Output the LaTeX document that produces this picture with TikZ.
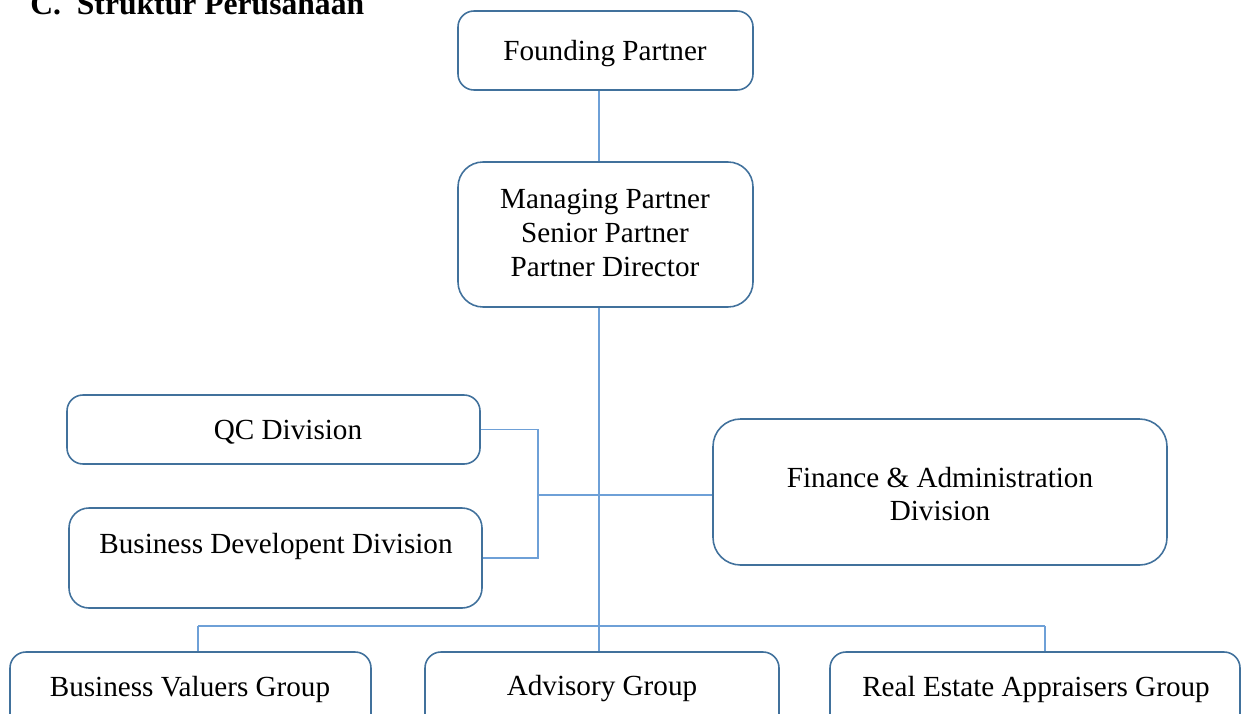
\documentclass[tikz,border=0pt]{standalone}
\usepackage{fontspec}
\setmainfont{Liberation Serif}
\usetikzlibrary{fit}

\definecolor{boxblue}{RGB}{65,113,156}
\definecolor{lineblue}{RGB}{110,160,215}

\tikzset{
  orgbox/.style = {draw=boxblue, line width=0.9pt, rounded corners=0.32cm,
                   inner sep=0pt},
  orgtext/.style = {inner sep=0pt, align=center,
                    font=\fontsize{16.6}{19.3}\selectfont},
  conn/.style = {draw=lineblue, line width=0.6pt},
}

\begin{document}
\begin{tikzpicture}[x=0.02cm, y=-0.02cm]
	\useasboundingbox (0,0) rectangle (1250,713);
	% title, cut at the top edge
	\node [anchor=base west, inner sep=0pt, font=\fontsize{18}{21}\selectfont\bfseries] (title) at (30,15) {C.\hspace{9pt}Struktur Perusahaan};

	% boxes
	\node [orgbox, fit={(458,11) (753,90)}] (founding) {};
	\node [orgtext] (foundingtext) at (605,54) {Founding Partner};
	\node [orgbox, rounded corners=0.5cm, fit={(458,162) (753,307)}] (managing) {};
	\node [orgtext] (managingtext) at (605,233) {Managing Partner\\Senior Partner\\Partner Director};
	\node [orgbox, fit={(67,395) (480,464)}] (qc) {};
	\node [orgtext] (qctext) at (288,432) {QC Division};
	\node [orgbox, rounded corners=0.4cm, fit={(69,508) (482,608)}] (bd) {};
	\node [orgtext] (bdtext) at (276,546) {Business Developent Division};
	\node [orgbox, rounded corners=0.55cm, fit={(713,419) (1167,565)}] (fin) {};
	\node [orgtext] (fintext) at (940,494) {Finance \& Administration\\Division};

	\node [orgbox, fit={(10,652) (371,780)}] (bvg) {};
	\node [orgtext] (bvgtext) at (190,689) {Business Valuers Group};
	\node [orgbox, fit={(425,652) (779,780)}] (adv) {};
	\node [orgtext] (advtext) at (602,689) {Advisory Group};
	\node [orgbox, fit={(830,652) (1240,780)}] (rea) {};
	\node [orgtext] (reatext) at (1036,689) {Real Estate Appraisers Group};

	% connectors
	\coordinate (trunk) at (599,0);
	\coordinate (qcjoin) at (538,495);
	\coordinate (busL) at (198,626);
	\coordinate (busR) at (1045,626);

	\draw [conn] (trunk |- founding.south) -- (trunk |- managing.north);
	\draw [conn] (trunk |- managing.south) -- (trunk |- busL);
	\draw [conn] (qc.east) -| (qcjoin |- bd.east) -- (bd.east);
	\draw [conn] (qcjoin) -- (qcjoin -| fin.west);
	\draw [conn] (busL) -- (busR);
	\draw [conn] (busL) -- (busL |- bvg.north);
	\draw [conn] (trunk |- busL) -- (trunk |- adv.north);
	\draw [conn] (busR) -- (busR |- rea.north);
\end{tikzpicture}
\end{document}
